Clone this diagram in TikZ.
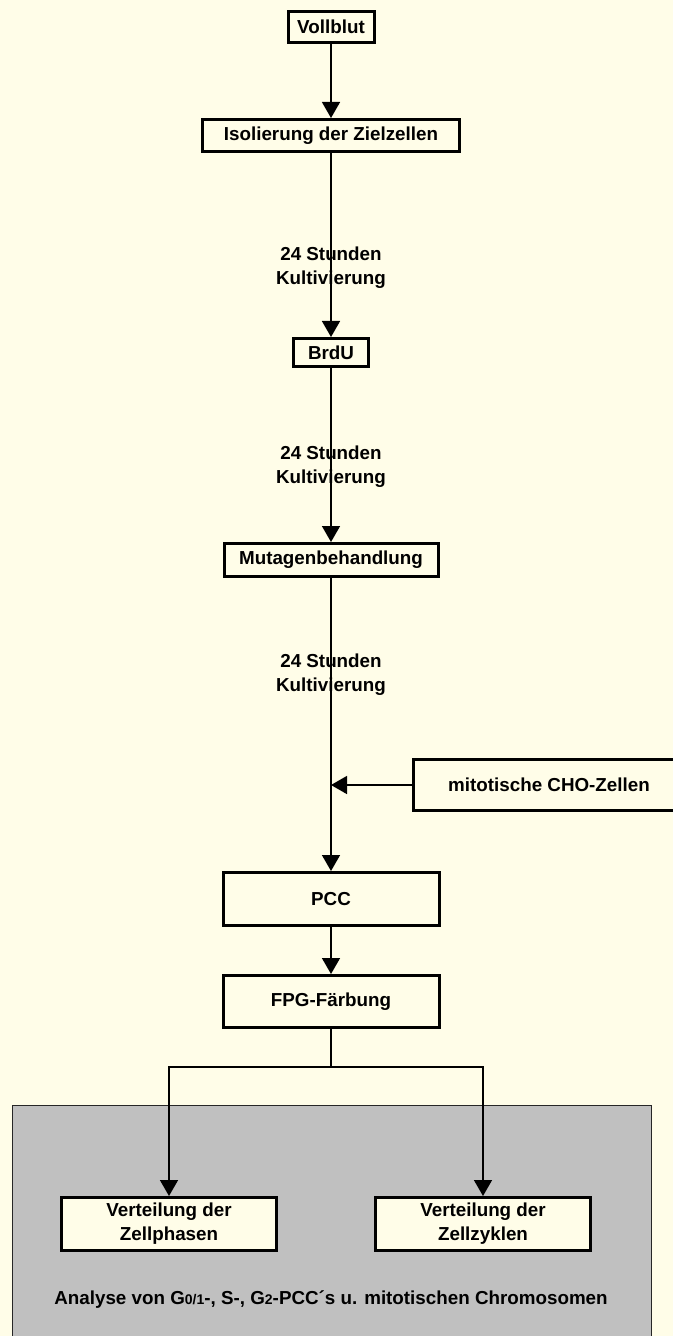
\documentclass[tikz,border=0pt]{standalone}
\usepackage{fontspec}
\setmainfont{Liberation Sans}
\usetikzlibrary{arrows.meta, positioning}
\definecolor{cream}{RGB}{255,253,232}
\definecolor{panelgray}{RGB}{192,192,192}

\begin{document}
\begin{tikzpicture}
  [x=0.5pt,y=-0.5pt,
   txt/.style={font=\fontsize{9.4}{12}\selectfont\bfseries,align=center},
   box/.style={txt,rectangle,draw=black,line width=1.5pt,fill=cream,inner sep=0pt},
   flow/.style={line width=0.75pt,-{Triangle[length=8pt,width=9pt]}},
   wire/.style={line width=0.75pt}]

  \clip (0,0) rectangle (673,1336);
  \fill[cream] (0,0) rectangle (673,1336);
  \filldraw[fill=panelgray,draw=black!85,line width=0.5pt] (12,1105) rectangle (651,1345);

  % main chain
  \node[box,minimum width=43pt,minimum height=15.5pt](blut) at (331,27) {Vollblut};
  \node[box,minimum width=128.5pt,minimum height=16pt](iso) at (331,135.5) {Isolierung der Zielzellen};
  \node[box,minimum width=37.5pt,minimum height=14pt](brdu) at (331,352.5) {BrdU};
  \node[box,minimum width=107pt,minimum height=16.5pt](mut) at (331,560) {Mutagenbehandlung};
  \node[box,minimum width=108pt,minimum height=26.5pt](pcc) at (331,899) {PCC};
  \node[box,minimum width=108pt,minimum height=26pt](fpg) at (331,1001.5) {FPG-F\"arbung};
  \node[box,minimum width=135.5pt,minimum height=25.5pt](cho) at (549,785) {mitotische CHO-Zellen};

  % results
  \node[box,minimum width=107.5pt,minimum height=26.5pt](phasen) at (169,1224) {Verteilung der\\Zellphasen};
  \node[box,minimum width=107.5pt,minimum height=26.5pt](zyklen) at (483,1224) {Verteilung der\\Zellzyklen};
  \node[txt](analyse) at (331,1300) {Analyse von G{\fontsize{7}{8}\selectfont 0/1}-, S-, G{\fontsize{7}{8}\selectfont 2}-PCC\char"00B4 s u. mitotischen Chromosomen};

  % time labels
  \node[txt](k1) at (331,268) {24 Stunden\\Kultivierung};
  \node[txt](k2) at (331,467) {24 Stunden\\Kultivierung};
  \node[txt](k3) at (331,675) {24 Stunden\\Kultivierung};

  \coordinate (join) at (331,785);
  \coordinate (split) at (331,1067);

  \draw[flow] (blut) -- (iso);
  \draw[flow] (iso) -- (brdu);
  \draw[flow] (brdu) -- (mut);
  \draw[flow] (mut) -- (pcc);
  \draw[flow] (cho) -- (join);
  \draw[flow] (pcc) -- (fpg);
  \draw[wire] (fpg) -- (split);
  \draw[flow] (split) -| (phasen);
  \draw[flow] (split) -| (zyklen);

\end{tikzpicture}
\end{document}
